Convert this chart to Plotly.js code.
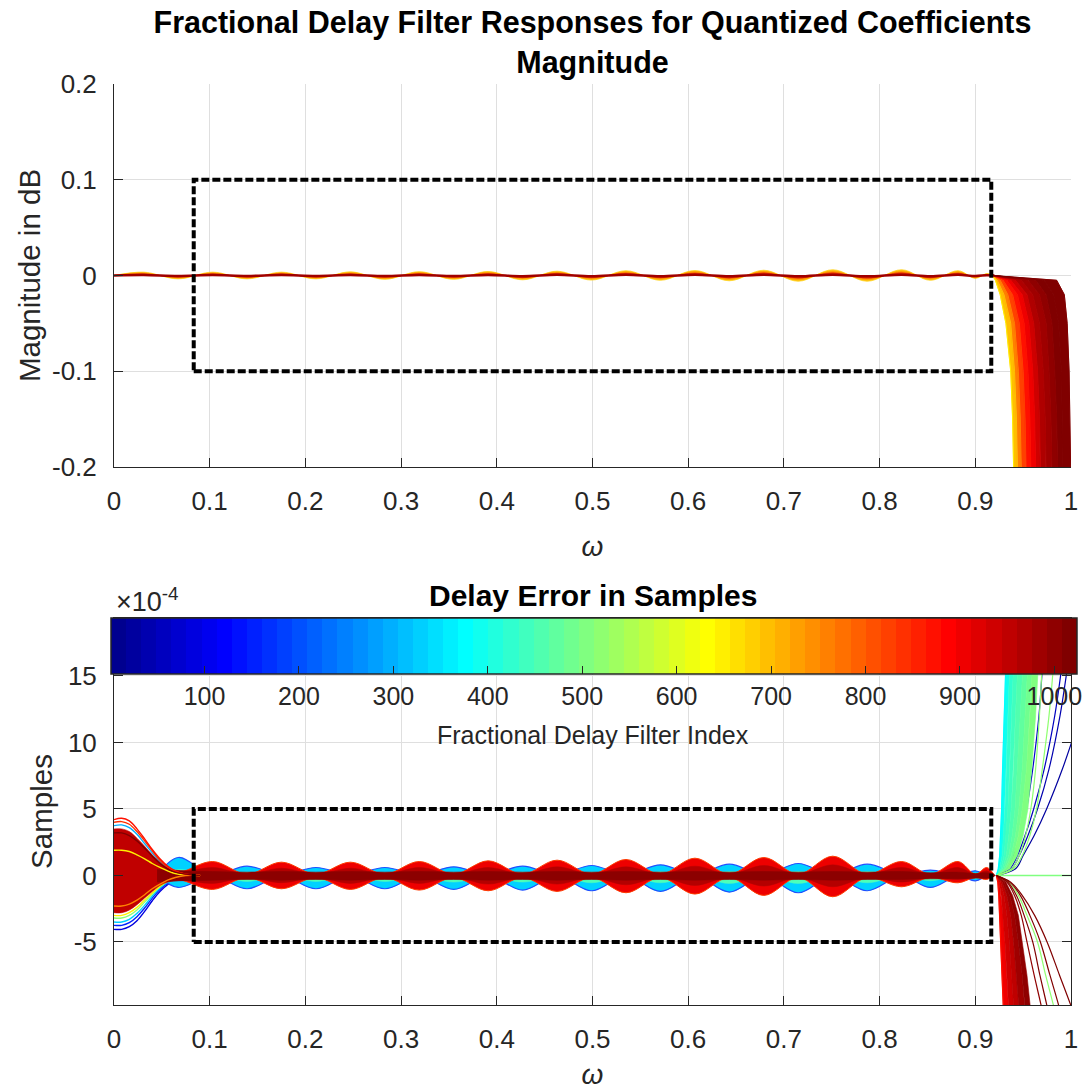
<!DOCTYPE html>
<html><head><meta charset="utf-8">
<script src="https://cdn.plot.ly/plotly-3.0.1.min.js"></script>
<style>html,body{margin:0;padding:0;background:#fff;} #plot{width:1086px;height:1090px;}</style>
</head><body><div id="plot"></div>
<script>
// ================= DATA =================
const xTickVals = [0, 0.1, 0.2, 0.3, 0.4, 0.5, 0.6, 0.7, 0.8, 0.9, 1];
const xTickText = ['0', '0.1', '0.2', '0.3', '0.4', '0.5', '0.6', '0.7', '0.8', '0.9', '1'];
const magTickVals = [-0.2, -0.1, 0, 0.1, 0.2];
const magTickText = ['-0.2', '-0.1', '0', '0.1', '0.2'];
const dlyTickVals = [-5, 0, 5, 10, 15];
const dlyTickText = ['-5', '0', '5', '10', '15'];
const cbTickVals = [100, 200, 300, 400, 500, 600, 700, 800, 900, 1000];
const cbTickText = ['100', '200', '300', '400', '500', '600', '700', '800', '900', '1000'];
const cbRange = [1, 1024];

// dotted pass-band boxes
const boxX = [0.0833, 0.9167];
const magBoxY = [-0.1, 0.1];
const dlyBoxY = [-5, 5];

// ---- Top: magnitude ripple (dB) at ripple extrema ----
const ripX = [0, 0.031, 0.067, 0.103, 0.139, 0.175, 0.211, 0.247, 0.283, 0.319, 0.355, 0.391, 0.427, 0.463, 0.499,
  0.535, 0.571, 0.607, 0.643, 0.679, 0.715, 0.751, 0.787, 0.823, 0.853, 0.882, 0.900, 0.912, 0.920];
const magYel = [0, 0.0035, -0.0035, 0.0035, -0.0035, 0.0035, -0.0035, 0.0038, -0.004, 0.004, -0.004, 0.0042, -0.0045, 0.0045, -0.0048,
  0.005, -0.005, 0.0052, -0.0055, 0.0055, -0.006, 0.006, -0.006, 0.006, -0.005, 0.005, -0.003, 0.002, 0];
const magOra = [0, 0.0028, -0.0028, 0.0028, -0.0028, 0.0028, -0.0028, 0.003, -0.0032, 0.0032, -0.0032, 0.0034, -0.0036, 0.0036, -0.0038,
  0.004, -0.004, 0.0042, -0.0044, 0.0044, -0.0048, 0.0048, -0.0048, 0.0048, -0.004, 0.004, -0.0024, 0.0016, 0];
const magRed = [0, 0.0018, -0.0018, 0.0018, -0.0018, 0.0018, -0.0018, 0.0019, -0.002, 0.002, -0.002, 0.0021, -0.0023, 0.0023, -0.0024,
  0.0025, -0.0025, 0.0026, -0.0028, 0.0028, -0.003, 0.003, -0.003, 0.003, -0.0025, 0.0025, -0.0015, 0.001, 0];
const magDkr = [0, 0.0005, -0.0005, 0.0005, -0.0005, 0.0005, -0.0005, 0.0005, -0.0006, 0.0006, -0.0006, 0.0006, -0.0007, 0.0007, -0.0007,
  0.0008, -0.0008, 0.0008, -0.0008, 0.0008, -0.0009, 0.0009, -0.0009, 0.0009, -0.0008, 0.0008, -0.0005, 0.0003, 0];

// ---- Top: roll-off fan, omega where each filter crosses each dB level ----
const magFanLv = [0, -0.005, -0.02, -0.05, -0.1, -0.15, -0.2, -0.35];
const magFanIdx = [650, 700, 760, 820, 870, 910, 940, 965, 985, 1000, 1012, 1024];
const magFanX = [
  [0.918, 0.921, 0.926, 0.932, 0.937, 0.939, 0.940, 0.942],
  [0.918, 0.923, 0.930, 0.937, 0.941, 0.943, 0.944, 0.946],
  [0.918, 0.926, 0.934, 0.941, 0.945, 0.947, 0.948, 0.950],
  [0.918, 0.929, 0.939, 0.946, 0.950, 0.952, 0.953, 0.955],
  [0.918, 0.933, 0.944, 0.951, 0.955, 0.957, 0.958, 0.960],
  [0.918, 0.937, 0.949, 0.956, 0.960, 0.962, 0.963, 0.965],
  [0.918, 0.942, 0.954, 0.961, 0.965, 0.967, 0.968, 0.970],
  [0.918, 0.948, 0.960, 0.967, 0.971, 0.973, 0.974, 0.976],
  [0.918, 0.955, 0.967, 0.974, 0.977, 0.979, 0.980, 0.982],
  [0.918, 0.963, 0.974, 0.980, 0.983, 0.985, 0.986, 0.988],
  [0.918, 0.972, 0.982, 0.987, 0.990, 0.991, 0.992, 0.994],
  [0.918, 0.985, 0.993, 0.996, 0.998, 0.999, 1.000, 1.002]
];

// ---- Bottom: delay error ripple (units of 1e-4 samples) ----
const dlyX = [0.045, 0.067, 0.103, 0.139, 0.175, 0.211, 0.247, 0.283, 0.319, 0.355, 0.391, 0.427, 0.463, 0.499,
  0.535, 0.571, 0.607, 0.643, 0.679, 0.715, 0.751, 0.787, 0.823, 0.853, 0.882, 0.900, 0.912, 0.920];
const cyanUp = [0, 1.35, 0.05, 0.7, 0.05, 0.6, 0.05, 0.6, 0.05, 0.65, 0.05, 0.7, 0.05, 0.75, 0.05, 0.8, 0.05, 0.85, 0.05, 0.9, 0.05, 0.85, 0.05, 0.4, 0.05, 0.35, 0.05, 0];
const cyanDn = [0, -0.9, -0.05, -1.0, -0.05, -1.0, -0.05, -1.0, -0.05, -1.05, -0.05, -1.1, -0.05, -1.15, -0.05, -1.2, -0.05, -1.25, -0.05, -1.3, -0.05, -1.15, -0.05, -0.9, -0.05, -0.4, -0.05, 0];
const cyanInUp = [0, 0.45, 0.02, 0.25, 0.02, 0.2, 0.02, 0.2, 0.02, 0.22, 0.02, 0.25, 0.02, 0.25, 0.02, 0.28, 0.02, 0.3, 0.02, 0.3, 0.02, 0.3, 0.02, 0.15, 0.02, 0.12, 0.02, 0];
const cyanInDn = [0, -0.35, -0.02, -0.45, -0.02, -0.45, -0.02, -0.45, -0.02, -0.5, -0.02, -0.5, -0.02, -0.55, -0.02, -0.55, -0.02, -0.6, -0.02, -0.6, -0.02, -0.55, -0.02, -0.4, -0.02, -0.2, -0.02, 0];
const redUp = [0.3, 0.2, 1.05, 0.1, 1.0, 0.1, 1.0, 0.1, 1.05, 0.1, 1.1, 0.1, 1.15, 0.1, 1.2, 0.1, 1.3, 0.1, 1.35, 0.1, 1.45, 0.1, 1.05, 0.1, 1.05, 0.1, 0.6, 0];
const redDn = [-0.4, -0.3, -1.05, -0.15, -1.0, -0.15, -1.05, -0.15, -1.1, -0.15, -1.15, -0.15, -1.2, -0.15, -1.3, -0.15, -1.4, -0.15, -1.5, -0.15, -1.6, -0.15, -0.85, -0.15, -0.55, -0.15, -0.3, 0];
const redInUp = [0.3, 0.2, 0.6, 0.1, 0.55, 0.1, 0.55, 0.1, 0.6, 0.1, 0.6, 0.1, 0.65, 0.1, 0.65, 0.1, 0.7, 0.1, 0.75, 0.1, 0.8, 0.1, 0.6, 0.1, 0.6, 0.1, 0.35, 0];
const redInDn = [-0.4, -0.3, -0.6, -0.15, -0.55, -0.15, -0.6, -0.15, -0.6, -0.15, -0.65, -0.15, -0.65, -0.15, -0.7, -0.15, -0.75, -0.15, -0.8, -0.15, -0.85, -0.15, -0.5, -0.15, -0.3, -0.15, -0.2, 0];
const coreUp = [0.45, 0.35, 0.3, 0.25, 0.3, 0.25, 0.3, 0.25, 0.3, 0.25, 0.3, 0.25, 0.3, 0.25, 0.3, 0.25, 0.3, 0.25, 0.3, 0.25, 0.3, 0.25, 0.3, 0.2, 0.25, 0.15, 0.2, 0.05];
const coreDn = [-0.5, -0.4, -0.35, -0.3, -0.35, -0.3, -0.35, -0.3, -0.35, -0.3, -0.35, -0.3, -0.35, -0.3, -0.35, -0.3, -0.35, -0.3, -0.35, -0.3, -0.35, -0.3, -0.3, -0.25, -0.25, -0.2, -0.2, -0.05];

// ---- Bottom: low-frequency fan ----
const lfX = [0, 0.008, 0.016, 0.024, 0.032, 0.040, 0.048, 0.056, 0.064, 0.075, 0.09];
const lfLowIdx = [90, 150, 300, 330, 520, 650];
const lfLowY = [
  [-4.05, -4.05, -3.85, -3.4, -2.7, -1.9, -1.2, -0.7, -0.35, -0.1, 0],
  [-3.75, -3.75, -3.55, -3.1, -2.45, -1.7, -1.05, -0.6, -0.3, -0.1, 0],
  [3.75, 3.8, 3.6, 3.1, 2.4, 1.7, 1.05, 0.6, 0.3, 0.1, 0],
  [-3.5, -3.5, -3.3, -2.85, -2.25, -1.55, -0.95, -0.5, -0.25, -0.05, 0],
  [-3.2, -3.2, -3.0, -2.6, -2.0, -1.4, -0.85, -0.45, -0.2, -0.05, 0],
  [-3.0, -3.0, -2.8, -2.4, -1.85, -1.3, -0.8, -0.4, -0.2, 0, 0]
];
const lfMassUp = [3.5, 3.5, 3.3, 2.8, 2.2, 1.55, 1.0, 0.6, 0.4, 0.35, 0.3];
const lfMassDn = [-2.8, -2.8, -2.6, -2.2, -1.7, -1.2, -0.75, -0.5, -0.4, -0.35, -0.3];
const lfTopIdx = [650, 760, 840, 880, 1010];
const lfTopY = [
  [1.9, 1.9, 1.8, 1.55, 1.25, 0.9, 0.6, 0.35, 0.15, 0.05, 0],
  [-2.3, -2.3, -2.15, -1.85, -1.45, -1.0, -0.65, -0.35, -0.15, 0, 0],
  [4.0, 4.05, 3.85, 3.3, 2.6, 1.85, 1.15, 0.65, 0.3, 0.1, 0],
  [4.2, 4.3, 4.1, 3.5, 2.75, 1.95, 1.25, 0.7, 0.35, 0.1, 0],
  [3.2, 3.2, 3.0, 2.6, 2.05, 1.45, 0.9, 0.5, 0.25, 0.1, 0]
];

// ---- Bottom: high-frequency fans, omega at which each filter reaches each level ----
const upLv = [0, 0.5, 1.5, 3, 5, 8, 12, 16, 20];
const upIdx = [380, 400, 420, 440, 460, 475, 490, 505];
const upX = [
  [0.922, 0.924, 0.9255, 0.9265, 0.9275, 0.9285, 0.930, 0.932, 0.934],
  [0.922, 0.9255, 0.928, 0.9295, 0.931, 0.9325, 0.934, 0.936, 0.938],
  [0.922, 0.927, 0.930, 0.932, 0.934, 0.936, 0.938, 0.940, 0.942],
  [0.922, 0.9285, 0.9325, 0.935, 0.9375, 0.940, 0.942, 0.9445, 0.947],
  [0.922, 0.930, 0.935, 0.9385, 0.9415, 0.944, 0.947, 0.950, 0.952],
  [0.922, 0.9315, 0.9375, 0.942, 0.9455, 0.949, 0.952, 0.955, 0.957],
  [0.922, 0.933, 0.940, 0.945, 0.949, 0.9535, 0.957, 0.960, 0.963],
  [0.922, 0.936, 0.944, 0.950, 0.955, 0.959, 0.963, 0.966, 0.969]
];
const upSpIdx = [20, 35, 50, 70, 515, 522];
const upSpX = [
  [0.922, 0.942, 0.950, 0.9615, 0.9745, 0.991, 1.01, 1.03, 1.05],
  [0.922, 0.938, 0.946, 0.955, 0.965, 0.977, 0.9885, 0.997, 1.005],
  [0.922, 0.936, 0.944, 0.952, 0.961, 0.972, 0.983, 0.991, 0.999],
  [0.922, 0.933, 0.940, 0.947, 0.9535, 0.960, 0.9665, 0.9705, 0.975],
  [0.922, 0.938, 0.946, 0.9525, 0.958, 0.963, 0.967, 0.970, 0.973],
  [0.922, 0.940, 0.949, 0.957, 0.964, 0.970, 0.977, 0.982, 0.987]
];
const lowLv = [0, -0.5, -1.5, -3, -5, -7.5, -10, -13];
const lowIdx = [880, 910, 940, 960, 980, 995];
const lowX = [
  [0.922, 0.9235, 0.9245, 0.9255, 0.9265, 0.928, 0.9295, 0.931],
  [0.922, 0.925, 0.927, 0.929, 0.931, 0.933, 0.935, 0.937],
  [0.922, 0.9265, 0.930, 0.933, 0.9355, 0.938, 0.9405, 0.943],
  [0.922, 0.928, 0.933, 0.937, 0.940, 0.943, 0.946, 0.949],
  [0.922, 0.930, 0.936, 0.941, 0.945, 0.949, 0.952, 0.955],
  [0.922, 0.932, 0.939, 0.945, 0.949, 0.954, 0.958, 0.962]
];
const lowSpIdx = [520, 1005, 1012, 1018, 1024];
const lowSpX = [
  [0.922, 0.935, 0.945, 0.954, 0.965, 0.9735, 0.9825, 0.992],
  [0.922, 0.933, 0.941, 0.948, 0.954, 0.9615, 0.9695, 0.978],
  [0.922, 0.934, 0.943, 0.951, 0.960, 0.9675, 0.9755, 0.984],
  [0.922, 0.936, 0.947, 0.957, 0.968, 0.978, 0.988, 0.998],
  [0.922, 0.937, 0.949, 0.962, 0.975, 0.988, 1.001, 1.015]
];
const flatX = [0.922, 1.0];
const flatY = [0, 0];
const flatIdx = 512;

// ================= STYLE HELPERS =================
function jetMap(m) {
  const n = Math.ceil(m / 4), u = [];
  for (let i = 1; i <= n; i++) u.push(i / n);
  for (let i = 1; i < n; i++) u.push(1);
  for (let i = n; i >= 1; i--) u.push(i / n);
  const gOff = Math.ceil(n / 2) - (m % 4 === 1 ? 1 : 0);
  const R = new Array(m).fill(0), G = new Array(m).fill(0), B = new Array(m).fill(0);
  for (let j = 0; j < u.length; j++) {
    const g = gOff + j + 1, r = g + n, b = g - n;
    if (g >= 1 && g <= m) G[g - 1] = u[j];
    if (r >= 1 && r <= m) R[r - 1] = u[j];
    if (b >= 1 && b <= m) B[b - 1] = u[j];
  }
  return R.map((r, i) => [r, G[i], B[i]]);
}
const JET = jetMap(64);
const toRgb = c => 'rgb(' + c.map(v => Math.round(v * 255)).join(',') + ')';
function jetColor(idx) {
  let L = Math.floor((idx - cbRange[0]) / (cbRange[1] - cbRange[0]) * 64);
  L = Math.max(0, Math.min(63, L));
  return toRgb(JET[L]);
}
const jetScale = [];
JET.forEach((c, i) => { jetScale.push([i / 64, toRgb(c)]); jetScale.push([(i + 1) / 64, toRgb(c)]); });

const rectX = b => [b[0], b[1], b[1], b[0], b[0]];
const rectY = b => [b[0], b[0], b[1], b[1], b[0]];

const traces = [];
function lineTr(x, y, color, width, ax, shape) {
  traces.push({type: 'scatter', mode: 'lines', x: x, y: y, xaxis: ax[0], yaxis: ax[1],
    line: {color: color, width: width, shape: shape || 'spline'}, hoverinfo: 'skip'});
}
function zeroFill(x, y, fillc, linec, lw, ax) {
  traces.push({type: 'scatter', mode: 'lines', x: x, y: y, xaxis: ax[0], yaxis: ax[1], fill: 'tozeroy',
    fillcolor: fillc, line: {color: linec, width: lw, shape: 'spline'}, hoverinfo: 'skip'});
}
function band(xa, ya, xb, yb, color, ax, shape) {
  traces.push({type: 'scatter', mode: 'lines', xaxis: ax[0], yaxis: ax[1],
    x: xa.concat(xb.slice().reverse()), y: ya.concat(yb.slice().reverse()),
    fill: 'toself', fillcolor: color, line: {color: color, width: 0.6, shape: shape || 'linear'}, hoverinfo: 'skip'});
}
const TOP = ['x', 'y'], BOT = ['x2', 'y2'];

// ================= TOP SUBPLOT =================
zeroFill(ripX, magYel, '#FFD21A', '#FFD21A', 0.8, TOP);
zeroFill(ripX, magOra, '#FF9A00', '#FF9A00', 0.6, TOP);
zeroFill(ripX, magRed, '#E82A00', '#E82A00', 0.6, TOP);
lineTr(ripX, magDkr, '#A00000', 2.5, TOP);
for (let k = 0; k < magFanIdx.length - 1; k++)
  band(magFanX[k], magFanLv, magFanX[k + 1], magFanLv, jetColor(magFanIdx[k + 1]), TOP);
magFanIdx.forEach((idx, k) => lineTr(magFanX[k], magFanLv, jetColor(idx), 1, TOP, 'linear'));
lineTr(rectX(boxX), rectY(magBoxY), '#000', 4, TOP, 'linear');
traces[traces.length - 1].line.dash = '8px,3px';

// ================= BOTTOM SUBPLOT =================
upSpIdx.forEach((idx, k) => { if (idx < 300) lineTr(upSpX[k], upLv, jetColor(idx), 1.2, BOT, 'spline'); });
lfLowIdx.forEach((idx, k) => { if (idx < 400) lineTr(lfX, lfLowY[k], jetColor(idx), 1.4, BOT); });
zeroFill(dlyX, cyanUp, '#00D2FF', '#1F50FF', 1.2, BOT);
zeroFill(dlyX, cyanDn, '#00D2FF', '#1F50FF', 1.2, BOT);
zeroFill(dlyX, cyanInUp, '#4DFFB8', '#4DFFB8', 0.5, BOT);
zeroFill(dlyX, cyanInDn, '#4DFFB8', '#4DFFB8', 0.5, BOT);
for (let k = 0; k < upIdx.length - 1; k++)
  band(upX[k], upLv, upX[k + 1], upLv, jetColor(upIdx[k + 1]), BOT);
lineTr(upX[0], upLv, jetColor(upIdx[0]), 1.2, BOT, 'linear');
lfLowIdx.forEach((idx, k) => { if (idx >= 400) lineTr(lfX, lfLowY[k], jetColor(idx), 1.4, BOT); });
lineTr(flatX, flatY, jetColor(flatIdx), 1.5, BOT, 'linear');
upSpIdx.forEach((idx, k) => { if (idx >= 300) lineTr(upSpX[k], upLv, jetColor(idx), 1.2, BOT, 'spline'); });
lowSpIdx.forEach((idx, k) => { if (idx < 600) lineTr(lowSpX[k], lowLv, jetColor(idx), 1.2, BOT, 'spline'); });
zeroFill(dlyX, redUp, '#EE0000', '#FF3A00', 1, BOT);
zeroFill(dlyX, redDn, '#EE0000', '#FF3A00', 1, BOT);
zeroFill(dlyX, redInUp, '#B40000', '#B40000', 0.5, BOT);
zeroFill(dlyX, redInDn, '#B40000', '#B40000', 0.5, BOT);
band(lfX, lfMassUp, lfX, lfMassDn, '#C00000', BOT, 'spline');
for (let k = 0; k < lowIdx.length - 1; k++)
  band(lowX[k], lowLv, lowX[k + 1], lowLv, jetColor(lowIdx[k + 1]), BOT);
lineTr(lowX[0], lowLv, jetColor(lowIdx[0]), 1.2, BOT, 'linear');
lowSpIdx.forEach((idx, k) => { if (idx >= 600) lineTr(lowSpX[k], lowLv, jetColor(idx), 1.2, BOT, 'spline'); });
band(dlyX, coreUp, dlyX, coreDn, '#8C0000', BOT, 'spline');
lfTopIdx.forEach((idx, k) => lineTr(lfX, lfTopY[k], jetColor(idx), 1.4, BOT));
lineTr(rectX(boxX), rectY(dlyBoxY), '#000', 4, BOT, 'linear');
traces[traces.length - 1].line.dash = '8px,3px';

// colour bar (dummy off-range points carrying the colour scale)
traces.push({type: 'scatter', mode: 'markers', x: [-1, -1], y: [0, 0], xaxis: 'x2', yaxis: 'y2', hoverinfo: 'skip',
  marker: {size: 1, color: cbRange, cmin: cbRange[0], cmax: cbRange[1], colorscale: jetScale, showscale: true,
    colorbar: {orientation: 'h', xref: 'paper', yref: 'paper', x: 0.5016, xanchor: 'center', y: 0.4202, yanchor: 'top',
      len: 966, lenmode: 'pixels', thickness: 56, thicknessmode: 'pixels', xpad: 0, ypad: 0,
      outlinewidth: 1.5, outlinecolor: '#262626', ticks: 'inside', ticklen: 8, tickwidth: 1, tickcolor: '#262626',
      tickmode: 'array', tickvals: cbTickVals, ticktext: cbTickText,
      tickfont: {family: 'Liberation Sans, Arial, sans-serif', size: 25, color: '#262626'}}}});

// ================= LAYOUT =================
const FONT = 'Liberation Sans, Arial, sans-serif';
const axCommon = {
  ticks: 'inside', ticklen: 9, tickwidth: 1, tickcolor: '#262626', showline: true, linecolor: '#262626', linewidth: 1,
  showgrid: true, gridcolor: '#DFDFDF', gridwidth: 1, zeroline: false, tickmode: 'array',
  tickfont: {family: FONT, size: 26, color: '#262626'}, fixedrange: true
};
const layout = {
  width: 1086, height: 1090, margin: {l: 114, r: 9, t: 84, b: 85},
  paper_bgcolor: '#fff', plot_bgcolor: '#fff', showlegend: false, hovermode: false,
  font: {family: FONT, color: '#262626'},
  title: {text: '<b>Fractional Delay Filter Responses for Quantized Coefficients<br>Magnitude</b>',
    font: {family: FONT, size: 30.5, color: '#000'}, xref: 'paper', x: 0.5, xanchor: 'center',
    yref: 'container', y: 1 - 33 / 1090, yanchor: 'middle'},
  xaxis: Object.assign({}, axCommon, {domain: [0, 1], anchor: 'y', range: [0, 1], tickvals: xTickVals, ticktext: xTickText,
    ticklabelstandoff: 11, mirror: false,
    title: {text: '<i>ω</i>', font: {family: FONT, size: 28, color: '#262626'}, standoff: 21}}),
  yaxis: Object.assign({}, axCommon, {domain: [0.58415, 1], anchor: 'x', range: [-0.2, 0.2], tickvals: magTickVals, ticktext: magTickText,
    ticklabelstandoff: 11, mirror: false,
    title: {text: 'Magnitude in dB', font: {family: FONT, size: 29.5, color: '#262626'}, standoff: 2}}),
  xaxis2: Object.assign({}, axCommon, {domain: [0, 1], anchor: 'y2', range: [0, 1], tickvals: xTickVals, ticktext: xTickText,
    ticklabelstandoff: 11, mirror: 'ticks',
    title: {text: '<i>ω</i>', font: {family: FONT, size: 28, color: '#262626'}, standoff: 21}}),
  yaxis2: Object.assign({}, axCommon, {domain: [0, 0.4202], anchor: 'x2', range: [-9.74, 19.36], tickvals: dlyTickVals, ticktext: dlyTickText,
    ticklabelstandoff: 11, mirror: 'ticks',
    title: {text: 'Samples', font: {family: FONT, size: 29.5, color: '#262626'}, standoff: 6}}),
  annotations: [
    {text: '<b>Delay Error in Samples</b>', xref: 'paper', yref: 'paper', x: 0.5, y: 0.4441, xanchor: 'center', yanchor: 'middle',
      showarrow: false, font: {family: FONT, size: 30, color: '#000'}},
    {text: '×10<sup>-4</sup>', xref: 'paper', yref: 'paper', x: 0, y: 0.4397, xanchor: 'left', yanchor: 'middle',
      showarrow: false, font: {family: FONT, size: 27, color: '#262626'}},
    {text: 'Fractional Delay Filter Index', xref: 'paper', yref: 'paper', x: 0.5, y: (1005 - 735) / 921, xanchor: 'center', yanchor: 'middle',
      showarrow: false, font: {family: FONT, size: 25, color: '#262626'}}
  ]
};
Plotly.newPlot('plot', traces, layout, {staticPlot: true, displayModeBar: false});
</script></body></html>
